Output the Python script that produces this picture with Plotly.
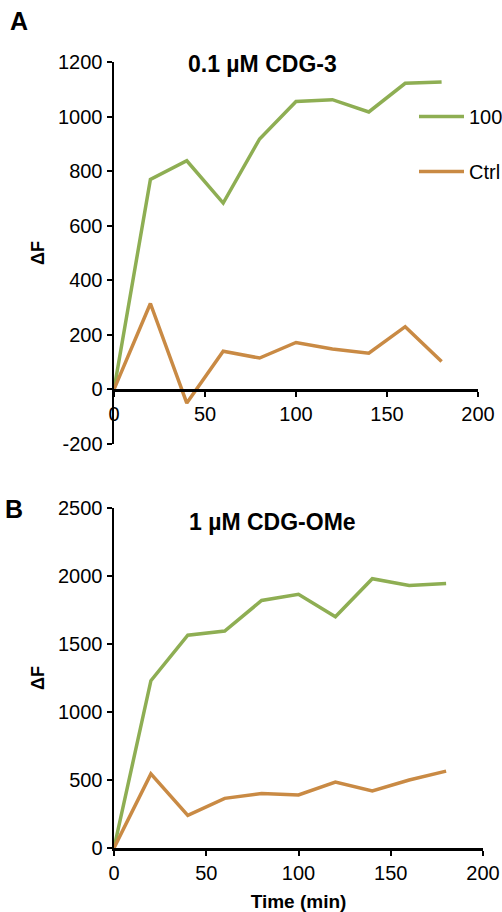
import plotly.graph_objects as go

time_min = [0, 20, 40, 60, 80, 100, 120, 140, 160, 180]
a_100 = [0, 770, 838, 683, 918, 1055, 1062, 1017, 1122, 1127]
a_ctrl = [0, 315, -50, 140, 115, 172, 148, 133, 230, 102]
b_100 = [0, 1230, 1565, 1595, 1820, 1865, 1700, 1980, 1930, 1945]
b_ctrl = [0, 545, 240, 365, 400, 390, 485, 420, 500, 565]

a_yticks = [-200, 0, 200, 400, 600, 800, 1000, 1200]
a_yticklabels = ["-200", "0", "200", "400", "600", "800", "1000", "1200"]
b_yticks = [0, 500, 1000, 1500, 2000, 2500]
x_ticks = [0, 50, 100, 150, 200]

title_a = "0.1 µM CDG-3"
title_b = "1 µM CDG-OMe"
y_label = "ΔF"
x_label = "Time (min)"
names = ["100", "Ctrl"]

GREEN = "#8EAE53"
ORANGE = "#C98A44"
FONT = "Liberation Sans, Arial, sans-serif"

FW, FH = 502, 912

def px_x(p):
    return p / FW

def px_y(p):
    return 1 - p / FH

LW = 3.5
fig = go.Figure()
fig.add_trace(go.Scatter(x=time_min, y=a_100, mode="lines", name=names[0],
                         line=dict(color=GREEN, width=LW), xaxis="x", yaxis="y",
                         legendgroup="g1"))
fig.add_trace(go.Scatter(x=time_min, y=a_ctrl, mode="lines", name=names[1],
                         line=dict(color=ORANGE, width=LW), xaxis="x", yaxis="y",
                         legendgroup="g2"))
fig.add_trace(go.Scatter(x=time_min, y=b_100, mode="lines", name=names[0],
                         line=dict(color=GREEN, width=LW), xaxis="x2", yaxis="y2",
                         showlegend=False))
fig.add_trace(go.Scatter(x=time_min, y=b_ctrl, mode="lines", name=names[1],
                         line=dict(color=ORANGE, width=LW), xaxis="x2", yaxis="y2",
                         showlegend=False))

tickfont = dict(family=FONT, size=20, color="black")
common_x = dict(range=[0, 200], tickvals=x_ticks, showgrid=False, zeroline=False,
                showline=True, linecolor="black", linewidth=2.5,
                ticks="outside", ticklen=5, tickwidth=2, tickcolor="black",
                tickfont=tickfont, fixedrange=True, automargin=False)
common_y = dict(showgrid=False, zeroline=False, showline=True, linecolor="black",
                linewidth=2.5, ticks="outside", ticklen=5, tickwidth=2,
                tickcolor="black", tickfont=tickfont, fixedrange=True,
                automargin=False)

fig.update_layout(
    width=FW, height=FH,
    margin=dict(l=0, r=0, t=0, b=0, autoexpand=False),
    paper_bgcolor="white", plot_bgcolor="white",
    font=dict(family=FONT, color="black"),
    hovermode=False,
    xaxis=dict(common_x, domain=[px_x(114), px_x(478)], anchor="free",
               position=px_y(390)),
    yaxis=dict(common_y, domain=[px_y(444), px_y(62)], range=[-200, 1200],
               tickvals=a_yticks, ticktext=a_yticklabels, anchor="x",
               title=dict(text="<b>" + y_label + "</b>", font=dict(size=18, family=FONT),
                          standoff=9)),
    xaxis2=dict(common_x, domain=[px_x(114), px_x(483)], anchor="y2",
                title=dict(text="<b>" + x_label + "</b>", font=dict(size=19, family=FONT),
                           standoff=13)),
    yaxis2=dict(common_y, domain=[px_y(848), px_y(508)], range=[0, 2500],
                tickvals=b_yticks, anchor="x2",
                title=dict(text="<b>" + y_label + "</b>", font=dict(size=18, family=FONT),
                           standoff=9)),
    showlegend=True,
    legend=dict(x=px_x(414), y=px_y(97), xanchor="left", yanchor="top",
                bgcolor="rgba(0,0,0,0)", font=dict(size=20, family=FONT),
                itemwidth=45, traceorder="grouped", tracegroupgap=26),
    annotations=[
        dict(text="<b>" + title_a + "</b>", x=px_x(262), y=px_y(64), xref="paper",
             yref="paper", showarrow=False, xanchor="center", yanchor="middle",
             font=dict(size=23, family=FONT)),
        dict(text="<b>" + title_b + "</b>", x=px_x(272), y=px_y(522), xref="paper",
             yref="paper", showarrow=False, xanchor="center", yanchor="middle",
             font=dict(size=23, family=FONT)),
        dict(text="<b>A</b>", x=px_x(19), y=px_y(21), xref="paper", yref="paper",
             showarrow=False, xanchor="center", yanchor="middle",
             font=dict(size=25, family=FONT)),
        dict(text="<b>B</b>", x=px_x(14), y=px_y(509), xref="paper", yref="paper",
             showarrow=False, xanchor="center", yanchor="middle",
             font=dict(size=25, family=FONT)),
    ],
)

fig.write_html("out.html", config={"displayModeBar": False, "staticPlot": True},
               post_script="document.body.style.margin='0';document.body.style.overflow='hidden';")
